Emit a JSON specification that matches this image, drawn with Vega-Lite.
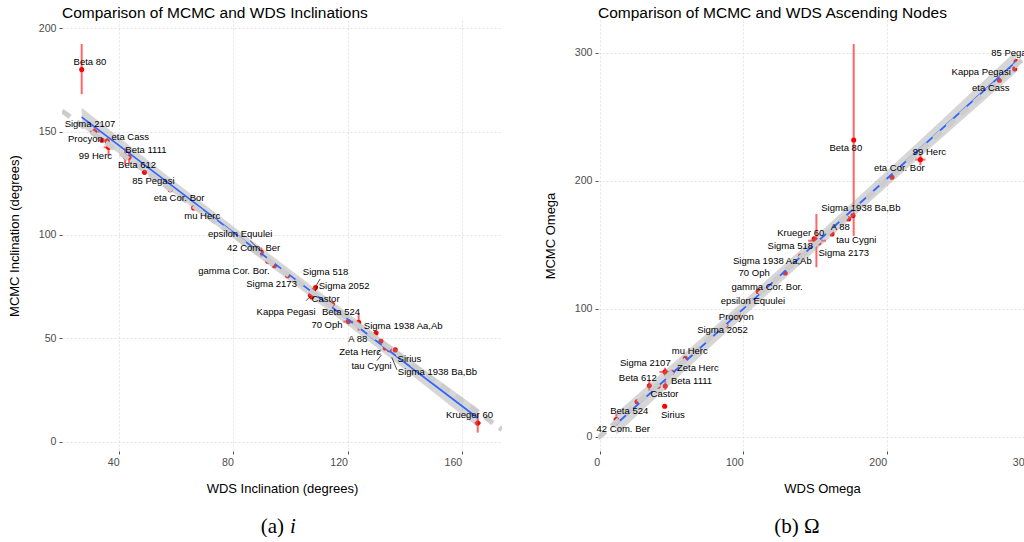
{
  "$schema": "https://vega.github.io/schema/vega-lite/v6.json",
  "padding": {"left": 8, "top": 5, "right": 0, "bottom": 0},
  "background": "white",
  "config": {
    "font": "Liberation Sans",
    "view": {"stroke": null},
    "axis": {"domain": false, "grid": true, "gridColor": "#dcdcdc", "gridDash": [2, 2], "gridWidth": 0.8, "tickColor": "#555555", "tickSize": 3, "tickWidth": 1, "labelFontSize": 10.6, "labelColor": "#4d4d4d", "labelFont": "Liberation Sans", "titleFont": "Liberation Sans", "titleFontSize": 13, "titleFontWeight": "normal", "titleColor": "black", "labelPadding": 3, "labelFlush": false, "labelOverlap": false},
    "axisX": {"labelAlign": "right", "titlePadding": 15},
    "axisY": {"titlePadding": 17},
    "title": {"anchor": "start", "frame": "group", "fontSize": 15.5, "fontWeight": "normal", "color": "black", "font": "Liberation Sans", "baseline": "alphabetic", "offset": -1}
  },
  "datasets": {
    "inc": [
      {"star": "Beta 80", "wds": 26.9, "mcmc": 180.0, "ylo": 168.1, "yhi": 192.4, "lx": 29.8, "ly": 183.8},
      {"star": "Sigma 2107", "wds": 31.4, "mcmc": 150.0, "xlo": 29.7, "xhi": 33.1, "ylo": 147.3, "yhi": 152.7, "lx": 29.8, "ly": 153.9},
      {"star": "Procyon", "wds": 34.0, "mcmc": 145.8, "lx": 28.2, "ly": 146.2},
      {"star": "eta Cass", "wds": 35.8, "mcmc": 145.4, "ylo": 144.0, "yhi": 146.8, "lx": 43.9, "ly": 147.3},
      {"star": "99 Herc", "wds": 36.3, "mcmc": 142.4, "xlo": 34.6, "xhi": 38.1, "ylo": 138.4, "yhi": 146.2, "lx": 31.7, "ly": 138.4},
      {"star": "Beta 1111", "wds": 43.5, "mcmc": 137.6, "ylo": 134.4, "yhi": 140.8, "lx": 49.4, "ly": 141.3},
      {"star": "Beta 612", "wds": 42.1, "mcmc": 137.9, "ylo": 133.9, "yhi": 141.9, "lx": 46.3, "ly": 133.9},
      {"star": "85 Pegasi", "wds": 48.9, "mcmc": 130.3, "lx": 52.0, "ly": 126.1},
      {"star": "eta Cor. Bor", "wds": 57.9, "mcmc": 121.9, "lx": 61.0, "ly": 117.9},
      {"star": "mu Herc", "wds": 66.1, "mcmc": 113.1, "lx": 69.1, "ly": 109.3},
      {"star": "epsilon Equulei", "wds": 89.8, "mcmc": 91.7, "ylo": 89.5, "yhi": 93.9, "lx": 82.4, "ly": 100.5, "sx": 85.9, "sy": 97.2, "ex": 89.4, "ey": 92.6},
      {"star": "42 Com. Ber", "wds": 92.1, "mcmc": 87.3, "lx": 87.1, "ly": 93.6},
      {"star": "gamma Cor. Bor.", "wds": 94.4, "mcmc": 85.1, "lx": 80.2, "ly": 82.7},
      {"star": "Sigma 2173", "wds": 99.0, "mcmc": 80.3, "lx": 93.4, "ly": 76.3},
      {"star": "Sigma 518", "wds": 108.1, "mcmc": 73.1, "lx": 112.3, "ly": 82.0, "sx": 110.4, "sy": 78.7, "ex": 109.0, "ey": 75.5},
      {"star": "Sigma 2052", "wds": 108.8, "mcmc": 74.6, "lx": 118.8, "ly": 75.5, "sx": 109.6, "sy": 75.5, "ex": 108.7, "ey": 73.0},
      {"star": "Castor", "wds": 107.5, "mcmc": 70.0, "lx": 112.3, "ly": 69.0},
      {"star": "Kappa Pegasi", "wds": 107.0, "mcmc": 70.8, "lx": 98.5, "ly": 62.9, "sx": 105.5, "sy": 68.2, "ex": 107.0, "ey": 70.3},
      {"star": "Beta 524", "wds": 114.7, "mcmc": 66.6, "lx": 117.7, "ly": 62.9},
      {"star": "70 Oph", "wds": 120.3, "mcmc": 58.1, "xlo": 118.5, "xhi": 122.1, "lx": 112.8, "ly": 56.5},
      {"star": "Sigma 1938 Aa,Ab", "wds": 123.9, "mcmc": 57.8, "ylo": 53.6, "yhi": 62.0, "lx": 139.5, "ly": 56.1},
      {"star": "A 88", "wds": 130.0, "mcmc": 52.6, "lx": 123.6, "ly": 49.7},
      {"star": "Zeta Herc", "wds": 131.7, "mcmc": 48.6, "lx": 124.4, "ly": 43.5, "sx": 130.3, "sy": 41.9, "ex": 131.5, "ey": 44.5},
      {"star": "tau Cygni", "wds": 133.2, "mcmc": 45.3, "lx": 128.4, "ly": 36.5, "sx": 130.3, "sy": 39.2, "ex": 131.9, "ey": 42.0},
      {"star": "Sigma 1938 Ba,Bb", "wds": 134.6, "mcmc": 44.5, "lx": 151.5, "ly": 33.9, "sx": 137.3, "sy": 34.8, "ex": 135.5, "ey": 40.8},
      {"star": "Sirius", "wds": 136.7, "mcmc": 44.4, "lx": 141.7, "ly": 40.0},
      {"star": "Krueger 60", "wds": 165.6, "mcmc": 9.0, "xlo": 164.5, "xhi": 166.7, "ylo": 4.4, "yhi": 13.6, "lx": 162.7, "ly": 12.9}
    ],
    "incfit": [
      {"wds": 26.9, "fit": 157.0, "lo": 152.5, "hi": 161.5},
      {"wds": 60.0, "fit": 122.3, "lo": 119.3, "hi": 125.3},
      {"wds": 96.3, "fit": 84.2, "lo": 81.4, "hi": 87.0},
      {"wds": 130.0, "fit": 48.8, "lo": 45.8, "hi": 51.8},
      {"wds": 165.6, "fit": 11.5, "lo": 7.0, "hi": 16.0}
    ],
    "incref": [
      {"wds": 20.0, "ref": 160.0},
      {"wds": 174.1, "ref": 5.9}
    ],
    "om": [
      {"star": "85 Pegasi", "wds": 290.3, "mcmc": 293.0, "lx": 287.7, "ly": 299.5},
      {"star": "Kappa Pegasi", "wds": 289.4, "mcmc": 287.3, "lx": 266.0, "ly": 284.7},
      {"star": "eta Cass", "wds": 278.7, "mcmc": 278.4, "lx": 272.7, "ly": 272.2},
      {"star": "Beta 80", "wds": 177.1, "mcmc": 231.8, "ylo": 156.8, "yhi": 306.8, "lx": 171.6, "ly": 225.3},
      {"star": "99 Herc", "wds": 223.6, "mcmc": 216.4, "xlo": 220.1, "xhi": 227.1, "ylo": 212.0, "yhi": 220.8, "lx": 229.9, "ly": 222.7},
      {"star": "eta Cor. Bor", "wds": 203.8, "mcmc": 202.7, "lx": 208.9, "ly": 209.7},
      {"star": "Sigma 1938 Ba,Bb", "wds": 173.6, "mcmc": 170.1, "lx": 182.1, "ly": 178.7},
      {"star": "tau Cygni", "wds": 176.6, "mcmc": 172.7, "lx": 178.9, "ly": 153.7},
      {"star": "A 88", "wds": 162.0, "mcmc": 158.4, "lx": 167.8, "ly": 163.6},
      {"star": "Krueger 60", "wds": 151.1, "mcmc": 153.1, "xlo": 145.3, "xhi": 157.8, "ylo": 132.4, "yhi": 174.0, "lx": 140.2, "ly": 159.1},
      {"star": "Sigma 518", "wds": 149.5, "mcmc": 154.5, "lx": 132.9, "ly": 148.8},
      {"star": "Sigma 2173", "wds": 152.8, "mcmc": 151.5, "lx": 170.2, "ly": 143.5},
      {"star": "Sigma 1938 Aa,Ab", "wds": 140.0, "mcmc": 141.0, "lx": 120.4, "ly": 137.5},
      {"star": "70 Oph", "wds": 129.4, "mcmc": 127.9, "lx": 107.7, "ly": 127.9},
      {"star": "gamma Cor. Bor.", "wds": 110.5, "mcmc": 113.5, "lx": 116.7, "ly": 116.7},
      {"star": "epsilon Equulei", "wds": 105.7, "mcmc": 106.3, "lx": 106.8, "ly": 105.8},
      {"star": "Procyon", "wds": 96.0, "mcmc": 95.0, "xlo": 93.5, "xhi": 98.5, "ylo": 92.0, "yhi": 98.0, "lx": 95.2, "ly": 93.8},
      {"star": "Sigma 2052", "wds": 88.0, "mcmc": 87.0, "lx": 85.6, "ly": 83.6},
      {"star": "mu Herc", "wds": 59.7, "mcmc": 61.3, "lx": 62.8, "ly": 67.2},
      {"star": "Sigma 2107", "wds": 45.6, "mcmc": 50.6, "xlo": 41.6, "xhi": 49.6, "ylo": 47.3, "yhi": 53.9, "lx": 31.8, "ly": 57.3},
      {"star": "Zeta Herc", "wds": 50.4, "mcmc": 50.3, "lx": 68.4, "ly": 53.7},
      {"star": "Beta 612", "wds": 34.6, "mcmc": 39.8, "ylo": 35.9, "yhi": 43.7, "lx": 26.6, "ly": 45.6},
      {"star": "Beta 1111", "wds": 45.7, "mcmc": 39.6, "ylo": 36.4, "yhi": 43.6, "lx": 64.0, "ly": 43.3},
      {"star": "Castor", "wds": 40.7, "mcmc": 39.4, "lx": 45.2, "ly": 33.4},
      {"star": "Sirius", "wds": 45.3, "mcmc": 23.8, "lx": 51.0, "ly": 17.0},
      {"star": "Beta 524", "wds": 26.0, "mcmc": 27.3, "lx": 20.6, "ly": 20.3},
      {"star": "42 Com. Ber", "wds": 11.6, "mcmc": 13.3, "xlo": 9.6, "xhi": 13.6, "ylo": 8.7, "yhi": 17.9, "lx": 16.4, "ly": 6.0}
    ],
    "omfit": [
      {"wds": 11.6, "fit": 9.9, "lo": 1.4, "hi": 18.4},
      {"wds": 80.0, "fit": 79.4, "lo": 73.0, "hi": 85.8},
      {"wds": 150.0, "fit": 150.5, "lo": 145.0, "hi": 156.0},
      {"wds": 220.0, "fit": 221.6, "lo": 215.2, "hi": 228.0},
      {"wds": 290.3, "fit": 293.0, "lo": 284.5, "hi": 301.5}
    ],
    "omref": [
      {"wds": -1.2, "ref": -1.2},
      {"wds": 311.2, "ref": 311.2}
    ],
    "caps": [
      {"panel": "a", "part": "label", "cap": "(a)"},
      {"panel": "a", "part": "symbol", "cap": "i"},
      {"panel": "b", "part": "label", "cap": "(b) Ω"}
    ]
  },
  "columns": 2,
  "spacing": {"row": 66, "column": 96},
  "bounds": "flush",
  "concat": [
    {
      "width": 440,
      "height": 431,
      "title": {"text": "Comparison of MCMC and WDS Inclinations"},
      "layer": [
        {
          "data": {"name": "inc"},
          "transform": [{"filter": "isValid(datum.ylo)"}],
          "mark": {"type": "rule", "color": "#ff0000", "opacity": 0.6, "strokeWidth": 2, "clip": true},
          "encoding": {
            "x": {"field": "wds", "type": "quantitative", "title": "WDS Inclination (degrees)", "scale": {"domain": [20, 174.1], "nice": false, "zero": false}, "axis": {"values": [40, 80, 120, 160]}},
            "y": {"field": "ylo", "type": "quantitative", "title": "MCMC Inclination (degrees)", "scale": {"domain": [-4.5, 204], "nice": false, "zero": false}, "axis": {"values": [0, 50, 100, 150, 200]}},
            "y2": {"field": "yhi"}
          }
        },
        {
          "data": {"name": "inc"},
          "transform": [{"filter": "isValid(datum.xlo)"}],
          "mark": {"type": "rule", "color": "#ff0000", "opacity": 0.6, "strokeWidth": 2, "clip": true},
          "encoding": {
            "x": {"field": "xlo", "type": "quantitative", "title": "WDS Inclination (degrees)", "scale": {"domain": [20, 174.1], "nice": false, "zero": false}},
            "x2": {"field": "xhi"},
            "y": {"field": "mcmc", "type": "quantitative", "title": "MCMC Inclination (degrees)", "scale": {"domain": [-4.5, 204], "nice": false, "zero": false}}
          }
        },
        {
          "data": {"name": "inc"},
          "mark": {"type": "point", "filled": true, "color": "#ff0000", "opacity": 1, "size": 26},
          "encoding": {
            "x": {"field": "wds", "type": "quantitative", "title": "WDS Inclination (degrees)", "scale": {"domain": [20, 174.1], "nice": false, "zero": false}},
            "y": {"field": "mcmc", "type": "quantitative", "title": "MCMC Inclination (degrees)", "scale": {"domain": [-4.5, 204], "nice": false, "zero": false}}
          }
        },
        {
          "data": {"name": "incfit"},
          "mark": {"type": "area", "color": "#999999", "opacity": 0.4},
          "encoding": {
            "x": {"field": "wds", "type": "quantitative", "title": "WDS Inclination (degrees)", "scale": {"domain": [20, 174.1], "nice": false, "zero": false}},
            "y": {"field": "lo", "type": "quantitative", "title": "MCMC Inclination (degrees)", "scale": {"domain": [-4.5, 204], "nice": false, "zero": false}},
            "y2": {"field": "hi"}
          }
        },
        {
          "data": {"name": "incfit"},
          "mark": {"type": "line", "color": "#3366ff", "strokeWidth": 1.8},
          "encoding": {
            "x": {"field": "wds", "type": "quantitative", "title": "WDS Inclination (degrees)", "scale": {"domain": [20, 174.1], "nice": false, "zero": false}},
            "y": {"field": "fit", "type": "quantitative", "title": "MCMC Inclination (degrees)", "scale": {"domain": [-4.5, 204], "nice": false, "zero": false}}
          }
        },
        {
          "data": {"name": "incref"},
          "mark": {"type": "line", "color": "#cccccc", "strokeWidth": 5, "strokeDash": [10, 8], "clip": true},
          "encoding": {
            "x": {"field": "wds", "type": "quantitative", "title": "WDS Inclination (degrees)", "scale": {"domain": [20, 174.1], "nice": false, "zero": false}},
            "y": {"field": "ref", "type": "quantitative", "title": "MCMC Inclination (degrees)", "scale": {"domain": [-4.5, 204], "nice": false, "zero": false}}
          }
        },
        {
          "data": {"name": "inc"},
          "transform": [{"filter": "isValid(datum.sx)"}],
          "mark": {"type": "rule", "color": "black", "strokeWidth": 0.7},
          "encoding": {
            "x": {"field": "sx", "type": "quantitative", "title": "WDS Inclination (degrees)", "scale": {"domain": [20, 174.1], "nice": false, "zero": false}},
            "y": {"field": "sy", "type": "quantitative", "title": "MCMC Inclination (degrees)", "scale": {"domain": [-4.5, 204], "nice": false, "zero": false}},
            "x2": {"field": "ex"},
            "y2": {"field": "ey"}
          }
        },
        {
          "data": {"name": "inc"},
          "mark": {"type": "text", "fontSize": 9.5, "color": "black", "font": "Liberation Sans"},
          "encoding": {
            "x": {"field": "lx", "type": "quantitative", "title": "WDS Inclination (degrees)", "scale": {"domain": [20, 174.1], "nice": false, "zero": false}},
            "y": {"field": "ly", "type": "quantitative", "title": "MCMC Inclination (degrees)", "scale": {"domain": [-4.5, 204], "nice": false, "zero": false}},
            "text": {"field": "star"}
          }
        }
      ]
    },
    {
      "width": 448,
      "height": 431,
      "title": {"text": "Comparison of MCMC and WDS Ascending Nodes"},
      "layer": [
        {
          "data": {"name": "om"},
          "transform": [{"filter": "isValid(datum.ylo)"}],
          "mark": {"type": "rule", "color": "#ff0000", "opacity": 0.6, "strokeWidth": 2, "clip": true},
          "encoding": {
            "x": {"field": "wds", "type": "quantitative", "title": "WDS Omega", "scale": {"domain": [-1.2, 311.2], "nice": false, "zero": false}, "axis": {"values": [0, 100, 200, 300]}},
            "y": {"field": "ylo", "type": "quantitative", "title": "MCMC Omega", "scale": {"domain": [-11.2, 325.5], "nice": false, "zero": false}, "axis": {"values": [0, 100, 200, 300]}},
            "y2": {"field": "yhi"}
          }
        },
        {
          "data": {"name": "om"},
          "transform": [{"filter": "isValid(datum.xlo)"}],
          "mark": {"type": "rule", "color": "#ff0000", "opacity": 0.6, "strokeWidth": 2, "clip": true},
          "encoding": {
            "x": {"field": "xlo", "type": "quantitative", "title": "WDS Omega", "scale": {"domain": [-1.2, 311.2], "nice": false, "zero": false}},
            "x2": {"field": "xhi"},
            "y": {"field": "mcmc", "type": "quantitative", "title": "MCMC Omega", "scale": {"domain": [-11.2, 325.5], "nice": false, "zero": false}}
          }
        },
        {
          "data": {"name": "om"},
          "mark": {"type": "point", "filled": true, "color": "#ff0000", "opacity": 1, "size": 26},
          "encoding": {
            "x": {"field": "wds", "type": "quantitative", "title": "WDS Omega", "scale": {"domain": [-1.2, 311.2], "nice": false, "zero": false}},
            "y": {"field": "mcmc", "type": "quantitative", "title": "MCMC Omega", "scale": {"domain": [-11.2, 325.5], "nice": false, "zero": false}}
          }
        },
        {
          "data": {"name": "omfit"},
          "mark": {"type": "area", "color": "#999999", "opacity": 0.4},
          "encoding": {
            "x": {"field": "wds", "type": "quantitative", "title": "WDS Omega", "scale": {"domain": [-1.2, 311.2], "nice": false, "zero": false}},
            "y": {"field": "lo", "type": "quantitative", "title": "MCMC Omega", "scale": {"domain": [-11.2, 325.5], "nice": false, "zero": false}},
            "y2": {"field": "hi"}
          }
        },
        {
          "data": {"name": "omfit"},
          "mark": {"type": "line", "color": "#3366ff", "strokeWidth": 1.8},
          "encoding": {
            "x": {"field": "wds", "type": "quantitative", "title": "WDS Omega", "scale": {"domain": [-1.2, 311.2], "nice": false, "zero": false}},
            "y": {"field": "fit", "type": "quantitative", "title": "MCMC Omega", "scale": {"domain": [-11.2, 325.5], "nice": false, "zero": false}}
          }
        },
        {
          "data": {"name": "omref"},
          "mark": {"type": "line", "color": "#cccccc", "strokeWidth": 5, "strokeDash": [10, 8], "clip": true},
          "encoding": {
            "x": {"field": "wds", "type": "quantitative", "title": "WDS Omega", "scale": {"domain": [-1.2, 311.2], "nice": false, "zero": false}},
            "y": {"field": "ref", "type": "quantitative", "title": "MCMC Omega", "scale": {"domain": [-11.2, 325.5], "nice": false, "zero": false}}
          }
        },
        {
          "data": {"name": "om"},
          "mark": {"type": "text", "fontSize": 9.5, "color": "black", "font": "Liberation Sans"},
          "encoding": {
            "x": {"field": "lx", "type": "quantitative", "title": "WDS Omega", "scale": {"domain": [-1.2, 311.2], "nice": false, "zero": false}},
            "y": {"field": "ly", "type": "quantitative", "title": "MCMC Omega", "scale": {"domain": [-11.2, 325.5], "nice": false, "zero": false}},
            "text": {"field": "star"}
          }
        }
      ]
    },
    {
      "width": 440,
      "height": 20,
      "data": {"name": "caps"},
      "layer": [
        {
          "transform": [{"filter": "datum.panel === 'a' && datum.part === 'label'"}],
          "mark": {"type": "text", "font": "Liberation Serif", "fontSize": 21, "color": "black", "align": "right", "dx": 2},
          "encoding": {"text": {"field": "cap"}}
        },
        {
          "transform": [{"filter": "datum.panel === 'a' && datum.part === 'symbol'"}],
          "mark": {"type": "text", "font": "Liberation Serif", "fontSize": 21, "fontStyle": "italic", "color": "black", "align": "left", "dx": 8},
          "encoding": {"text": {"field": "cap"}}
        }
      ]
    },
    {
      "width": 398,
      "height": 20,
      "data": {"name": "caps"},
      "transform": [{"filter": "datum.panel === 'b'"}],
      "mark": {"type": "text", "font": "Liberation Serif", "fontSize": 21, "color": "black"},
      "encoding": {"text": {"field": "cap"}}
    }
  ]
}
